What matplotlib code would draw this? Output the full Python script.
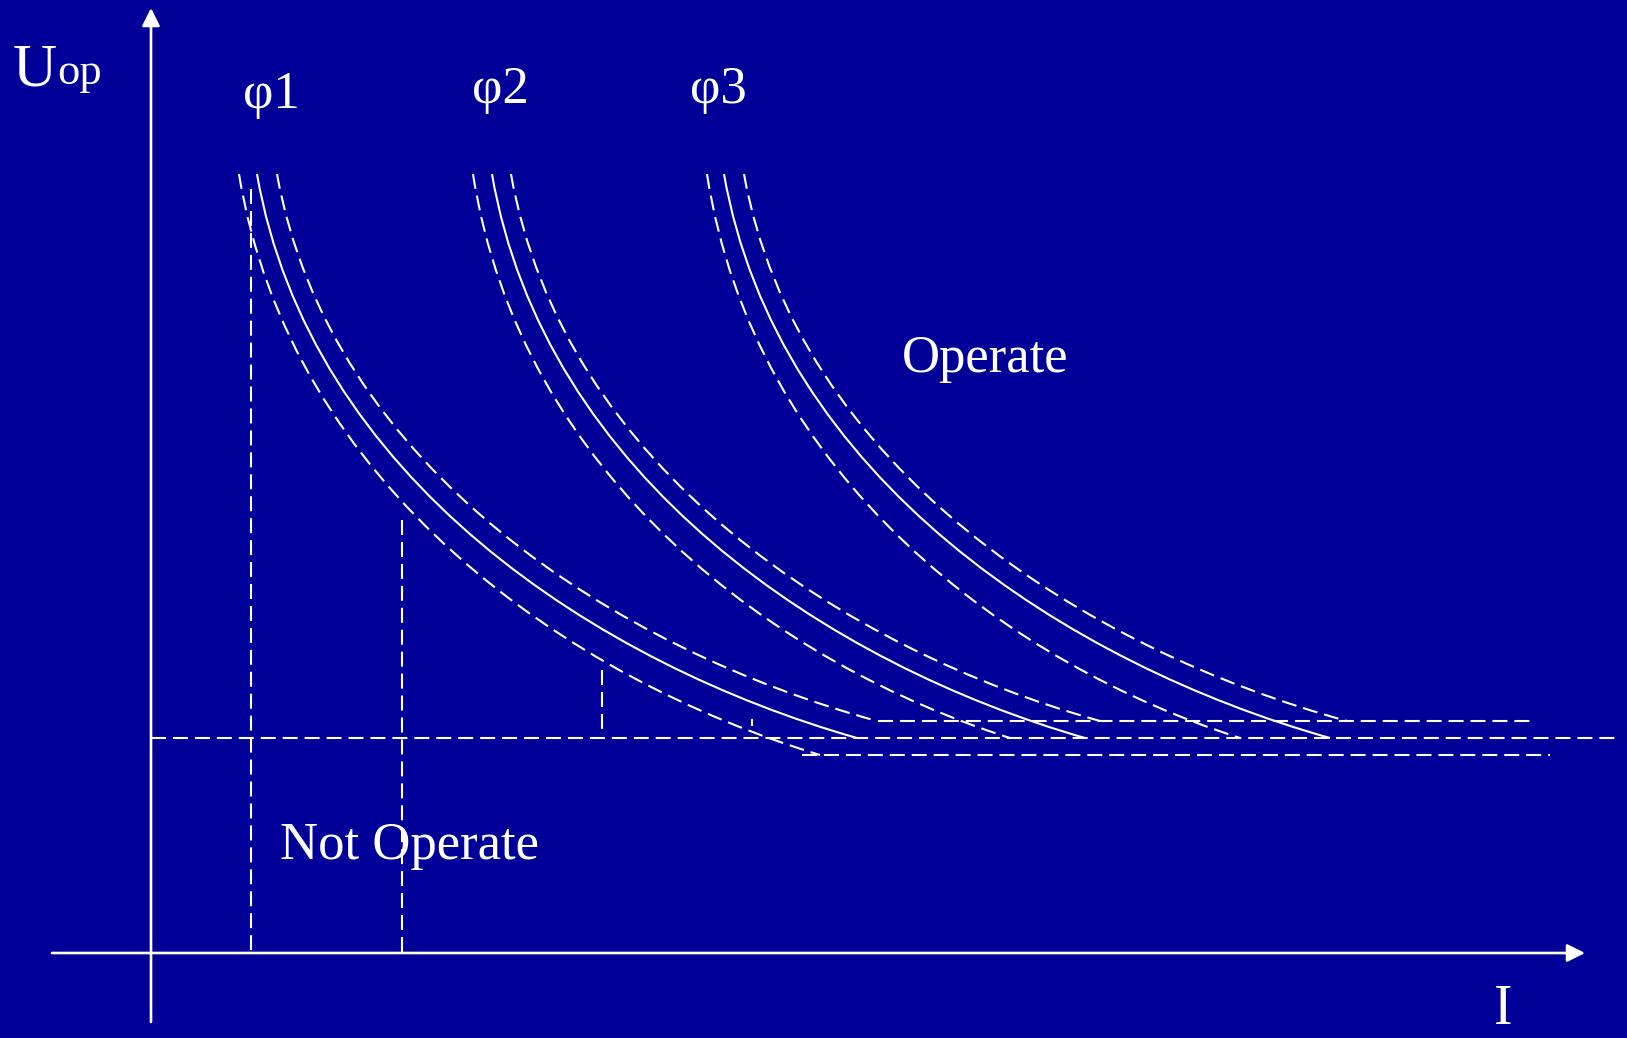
import matplotlib
matplotlib.use("Agg")
import matplotlib.pyplot as plt
from matplotlib.path import Path
from matplotlib.patches import PathPatch

# ---- drawing canvas (pixel-like units, y grows downward) ----
W_PX, H_PX = 1627, 1038
BG = "#000099"
FG = "white"

# ---- axes ----
axis_x0, axis_y0 = 151, 953          # origin of the I / Uop axes
y_axis_bottom, y_axis_top = 1022, 8
x_axis_left, x_axis_right = 52, 1585

# ---- characteristic levels (Uop) ----
u_nominal = 738
u_high = 721
u_low = 755

# ---- characteristic curves, one group per angle ----
group_labels = ["φ1", "φ2", "φ3"]
label_x = [243, 472, 690]
label_y = [108, 103, 103]

curve_top_y = 174
solid_top_x = [257, 492, 724]
solid_end_x = [857, 1085, 1330]
low_top_x = [239, 473, 707]
low_end_x = [820, 1010, 1240]
low_end_y = [755, 738, 738]
high_top_x = [277, 511, 744]
high_end_x = [877, 1100, 1347]

# ---- horizontal level lines (start, end) ----
nominal_span = (151, 1615)
high_span = (878, 1533)
low_span = (802, 1550)

# ---- vertical dashed markers ----
marker_x = [251, 402, 602, 752]
marker_top = [189, 520, 670, 719]
marker_bottom = [953, 953, 731, 726]

# ---- region labels ----
region_text = ["Operate", "Not Operate"]
region_x = [902, 280]
region_y = [372, 859]

plt.rcParams["lines.scale_dashes"] = False
DASH = (0, (10.8, 5.0))
LW = 1.5
SERIF = "Liberation Serif"

fig = plt.figure(figsize=(W_PX / 100, H_PX / 100), dpi=100, facecolor=BG)
ax = fig.add_axes([0, 0, 1, 1])
ax.set_facecolor(BG)
ax.set_xlim(0, W_PX)
ax.set_ylim(H_PX, 0)
ax.axis("off")

# curve shape: cubic Bezier control fractions of the curve's width/height
ALPHA, BETA, GAMMA, DELTA = 0.088, 0.54, 0.43, 0.13


def characteristic(x0, y0, x1, y1, dashed):
    w, h = x1 - x0, y1 - y0
    verts = [(x0, y0),
             (x0 + ALPHA * w, y0 + BETA * h),
             (x1 - GAMMA * w, y1 - DELTA * h),
             (x1, y1)]
    codes = [Path.MOVETO, Path.CURVE4, Path.CURVE4, Path.CURVE4]
    patch = PathPatch(Path(verts, codes), fill=False, edgecolor=FG, lw=LW,
                      linestyle=DASH if dashed else "-", capstyle="butt")
    ax.add_patch(patch)


for i in range(len(group_labels)):
    characteristic(solid_top_x[i], curve_top_y, solid_end_x[i], u_nominal, False)
    characteristic(low_top_x[i], curve_top_y, low_end_x[i], low_end_y[i], True)
    characteristic(high_top_x[i], curve_top_y, high_end_x[i], u_high, True)
    ax.text(label_x[i], label_y[i], group_labels[i], color=FG, fontsize=38,
            family=SERIF, ha="left", va="baseline")

# level lines
for (xa, xb), yv in [(nominal_span, u_nominal), (high_span, u_high), (low_span, u_low)]:
    ax.plot([xa, xb], [yv, yv], color=FG, lw=LW, linestyle=DASH, dash_capstyle="butt")

# vertical markers
for xv, yt, yb in zip(marker_x, marker_top, marker_bottom):
    ax.plot([xv, xv], [yt, yb], color=FG, lw=LW, linestyle=DASH, dash_capstyle="butt")

# axes with arrow heads
arrow = dict(arrowstyle="-|>,head_length=1.0,head_width=0.5", color=FG, lw=1.9,
             mutation_scale=10.8, shrinkA=0, shrinkB=0)
ax.annotate("", xy=(axis_x0, y_axis_top), xytext=(axis_x0, y_axis_bottom), arrowprops=arrow)
ax.annotate("", xy=(x_axis_right, axis_y0), xytext=(x_axis_left, axis_y0), arrowprops=arrow)

# axis titles
ax.text(13, 85, "U", color=FG, fontsize=44, family=SERIF, ha="left", va="baseline")
ax.text(57, 84, "op", color=FG, fontsize=32, family=SERIF, ha="left", va="baseline")
ax.text(1494, 1024, "I", color=FG, fontsize=40, family=SERIF, ha="left", va="baseline")

for t, xv, yv in zip(region_text, region_x, region_y):
    ax.text(xv, yv, t, color=FG, fontsize=38, family=SERIF, ha="left", va="baseline")

fig.savefig("out.png", dpi=100, facecolor=BG)
